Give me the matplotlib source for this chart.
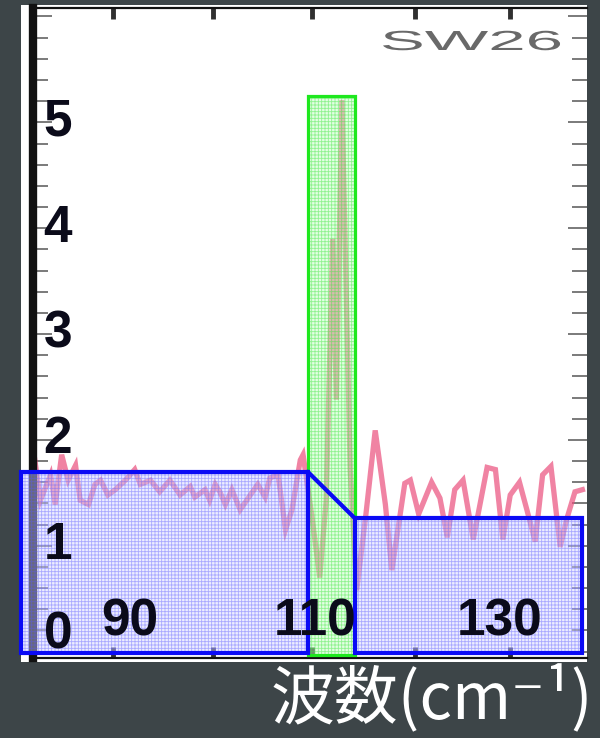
import matplotlib
matplotlib.use("Agg")
import matplotlib.pyplot as plt
from matplotlib.patches import Rectangle, PathPatch
from matplotlib.textpath import TextPath
from matplotlib.font_manager import FontProperties
from matplotlib.transforms import Affine2D, blended_transform_factory
from matplotlib.ticker import FixedLocator, MultipleLocator

plt.rcParams["hatch.linewidth"] = 0.6

# spectrum (wavenumber in cm^-1, intensity)
wavenumber = [
    79.7, 80.3, 81.4, 81.9, 82.6, 83.3, 84.1, 84.6, 85.5, 86.2, 86.8, 87.6,
    88.4, 89.5, 90.5, 91.1, 92.2, 93.2, 94.3, 95.4, 96.5, 97.0, 98.1, 98.6,
    99.2, 99.7, 100.3, 101.0, 101.9, 103.0, 103.8, 104.6, 105.1, 106.0, 106.8,
    107.5, 108.4, 108.7, 109.7, 110.5, 111.2, 111.9, 112.3, 112.9, 113.8,
    114.5, 115.5, 116.5, 117.6, 118.3, 119.7, 120.3, 121.2, 122.6, 123.5,
    124.3, 125.1, 126.0, 127.1, 128.6, 129.5, 130.3, 131.1, 132.1, 132.9,
    133.8, 134.6, 135.5, 136.5, 137.2, 138.1, 138.9,
]
intensity = [
    1.81, 1.43, 1.67, 1.39, 1.86, 1.62, 1.76, 1.43, 1.39, 1.58, 1.62, 1.48,
    1.53, 1.62, 1.72, 1.58, 1.62, 1.51, 1.62, 1.48, 1.56, 1.46, 1.53, 1.43,
    1.58, 1.51, 1.39, 1.53, 1.34, 1.48, 1.58, 1.46, 1.64, 1.67, 1.15,
    1.34, 1.81, 1.86, 1.25, 0.70, 1.43, 3.90, 2.38, 5.21, 1.71,
    0.58, 1.30, 2.09, 1.39, 0.77, 1.59, 1.62, 1.30, 1.60, 1.45,
    1.08, 1.53, 1.62, 1.06, 1.74, 1.72, 1.06, 1.48, 1.60, 1.34,
    1.04, 1.67, 1.75, 0.99, 1.25, 1.51, 1.53,
]

y_ticks = [0, 1, 2, 3, 4, 5]
x_labels = [90, 110, 130]
x_major_ticks = [88.2, 99.0, 109.7, 120.8, 131.1]

# highlighted regions: (x0, x1, y0, y1)
left_box = (78.2, 109.2, -0.01, 1.70)
right_box = (114.3, 138.9, -0.01, 1.26)
peak_box = (109.2, 114.3, -0.03, 5.25)

BG = "#3d4548"
BLUE = "#0a0af5"
GREEN = "#1ee81e"

fig = plt.figure(figsize=(6, 7.38), dpi=100)
fig.patch.set_facecolor(BG)
fig.add_artist(Rectangle((21 / 600, 1 - 662 / 738), 566 / 600, 657 / 738,
                         transform=fig.transFigure, facecolor="white",
                         edgecolor="none", zorder=-1))

ax = fig.add_axes([33 / 600, 1 - 658 / 738, 554 / 600, 650 / 738])
ax.set_facecolor("white")
ax.set_xlim(79.5, 139.4)
ax.set_ylim(-0.06, 6.08)

ax.plot(wavenumber, intensity, color="#ea4f7c", lw=3.8, alpha=0.7,
        solid_joinstyle="miter", zorder=2)

# axis frame and ticks
for side in ["left", "top", "bottom"]:
    ax.spines[side].set_color("#111111")
ax.spines["left"].set_linewidth(6)
ax.spines["top"].set_linewidth(1.6)
ax.spines["bottom"].set_linewidth(1.6)
ax.spines["right"].set_visible(False)

ax.yaxis.set_major_locator(MultipleLocator(1))
ax.yaxis.set_minor_locator(MultipleLocator(0.2))
ax.tick_params(axis="y", which="both", direction="in", left=True, right=True,
               labelleft=False, color="#707070", width=1.3)
ax.tick_params(axis="y", which="major", length=14)
ax.tick_params(axis="y", which="minor", length=11)
ax.xaxis.set_major_locator(FixedLocator(x_major_ticks))
ax.tick_params(axis="x", which="major", direction="in", top=True, bottom=True,
               labelbottom=False, length=8, width=3.5, color="#303030")

# tick labels drawn inside the frame
label_font = dict(family="Liberation Sans", fontsize=37, fontweight="bold",
                  color="#0b0b1a", zorder=7)
ytr = blended_transform_factory(ax.transAxes, ax.transData)
for v in y_ticks:
    ax.text(0.045, max(v, 0.16), str(v), transform=ytr, ha="center",
            va="center", **label_font)
for v in x_labels:
    ax.text(v, 0.28, str(v), ha="center", va="center", **label_font)

# shaded overlays
def shaded_box(box, face, hatch_col, edge, lw, z):
    x0, x1, y0, y1 = box
    ax.add_patch(Rectangle((x0, y0), x1 - x0, y1 - y0, facecolor=face,
                           edgecolor=hatch_col, hatch="+++++", lw=0,
                           clip_on=False, zorder=z))
    ax.add_patch(Rectangle((x0, y0), x1 - x0, y1 - y0, facecolor="none",
                           edgecolor=edge, lw=lw, clip_on=False, zorder=z + 0.5))


shaded_box(peak_box, (0.75, 1.0, 0.75, 0.45), (0.25, 0.9, 0.25, 0.5), GREEN, 2.3, 4)
shaded_box(left_box, (0.84, 0.84, 1.0, 0.45), (0.35, 0.35, 1.0, 0.45), BLUE, 3, 5)
shaded_box(right_box, (0.84, 0.84, 1.0, 0.45), (0.35, 0.35, 1.0, 0.45), BLUE, 3, 5)
ax.plot([left_box[1], right_box[0]], [left_box[3], right_box[3]], color=BLUE,
        lw=3, solid_capstyle="round", clip_on=False, zorder=6)

# sample name, stretched like in the scan
tp = TextPath((0, 0), "SW26", size=24, prop=FontProperties(family="Liberation Sans"))
tr = Affine2D().scale(2.8, 1.15).translate(380, 688).scale(1 / 100) + fig.dpi_scale_trans
fig.add_artist(PathPatch(tp, transform=tr, facecolor="#444444", edgecolor="none",
                         alpha=0.8, zorder=1))

fig.text(0.988, 0.052, "波数(cm⁻¹)", ha="right", va="center", color="white",
         fontsize=46, family=["Noto Sans CJK JP", "DejaVu Sans"])

fig.savefig("out.png", dpi=100, facecolor=fig.get_facecolor())
